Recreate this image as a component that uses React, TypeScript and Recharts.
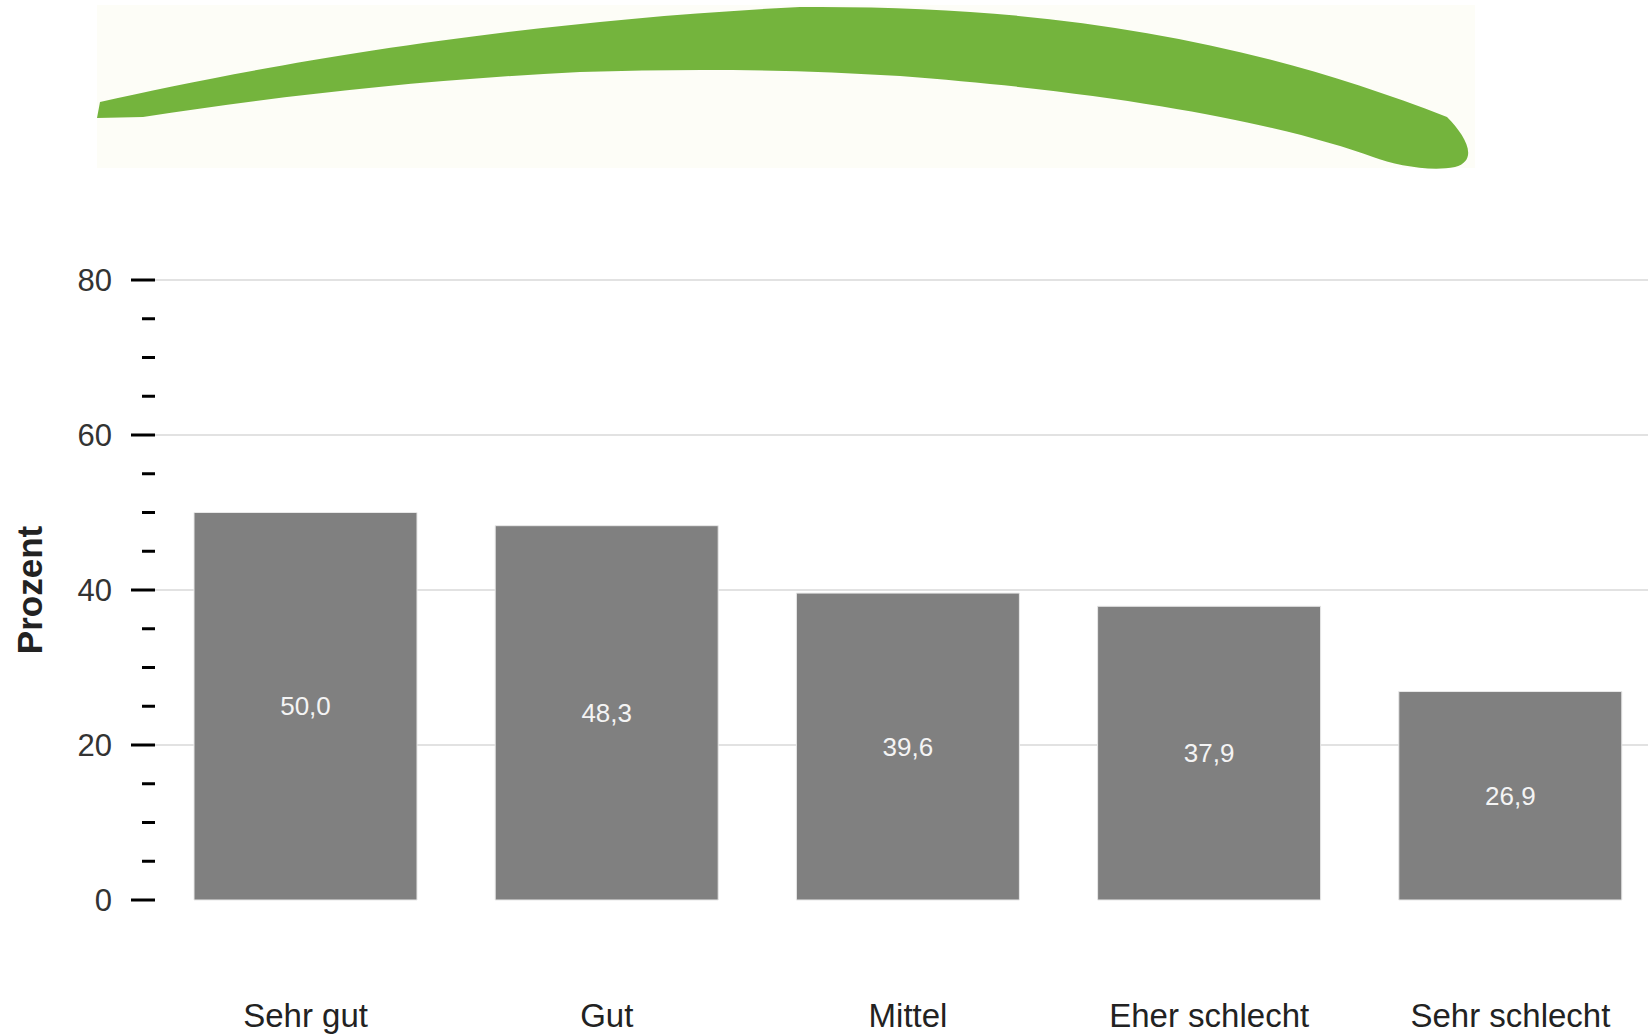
import { Bar, BarChart, CartesianGrid, LabelList, XAxis, YAxis } from "recharts";

const categories = ["Sehr gut", "Gut", "Mittel", "Eher schlecht", "Sehr schlecht"];
const values = [50.0, 48.3, 39.6, 37.9, 26.9];
const yTicks = [0, 5, 10, 15, 20, 25, 30, 35, 40, 45, 50, 55, 60, 65, 70, 75, 80];
const majorTicks = [0, 20, 40, 60, 80];
const gridValues = [20, 40, 60, 80];

const data = categories.map((name, i) => ({ name, value: values[i] }));

const font = "'Liberation Sans', Arial, sans-serif";

function YTick(props: any) {
  const { x, y, payload } = props;
  const major = majorTicks.includes(payload.value);
  return (
    <g>
      <line x1={x - (major ? 24 : 13)} x2={x} y1={y} y2={y} stroke="#000" strokeWidth={3} />
      {major && (
        <text x={x - 43} y={y} dy="0.36em" textAnchor="end" fontSize={31} fill="#333" fontFamily={font}>
          {payload.value}
        </text>
      )}
    </g>
  );
}

function AxisTitle(props: any) {
  const { viewBox } = props;
  const cx = 29;
  const cy = viewBox.y + viewBox.height / 2;
  return (
    <text
      x={cx}
      y={cy}
      transform={`rotate(-90, ${cx}, ${cy})`}
      textAnchor="middle"
      dominantBaseline="central"
      fontSize={35}
      fontWeight="bold"
      fill="#222"
      fontFamily={font}
    >
      Prozent
    </text>
  );
}

// green swoosh from the page header
function Swoosh() {
  return (
    <svg width={1648} height={180} style={{ position: "absolute", left: 0, top: 0 }}>
      <rect x={97} y={5} width={1378} height={163} fill="#fdfdf7" />
      <path
        d="M97,118 L100,102 C250,68 500,22 800,7 C1050,5 1250,40 1447,117 C1465,135 1480,160 1455,167 C1430,172 1395,165 1373,157 C1300,130 1150,95 900,76 C800,70 700,68 580,72 C420,80 280,96 143,117 Z"
        fill="#74b43d"
      />
    </svg>
  );
}

export default function App() {
  return (
    <div
      style={{
        position: "absolute",
        left: 0,
        top: 0,
        width: 1648,
        height: 1035,
        overflow: "hidden",
        background: "#fff",
        fontFamily: font
      }}
    >
      <Swoosh />
      <div style={{ position: "absolute", left: 0, top: 0 }}>
        <BarChart width={1662} height={1035} data={data} margin={{ top: 280, right: 1, bottom: 0, left: 0 }}>
          <CartesianGrid vertical={false} horizontalValues={gridValues} stroke="#e2e2e2" strokeWidth={2} />
          <XAxis
            dataKey="name"
            height={135}
            axisLine={false}
            tickLine={false}
            tickSize={0}
            tickMargin={104}
            interval={0}
            tick={{ fontSize: 33, fill: "#222", fontFamily: font }}
          />
          <YAxis
            width={155}
            domain={[0, 80]}
            ticks={yTicks}
            interval={0}
            axisLine={false}
            tickLine={false}
            tickSize={0}
            tickMargin={0}
            tick={<YTick />}
            label={<AxisTitle />}
          />
          <Bar dataKey="value" fill="#808080" stroke="#e8e8e8" strokeWidth={1} barSize={223} isAnimationActive={false}>
            <LabelList
              dataKey="value"
              position="center"
              formatter={(v: any) => Number(v).toFixed(1).replace(".", ",")}
              fill="#f4f4f4"
              fontSize={26}
              fontFamily={font}
            />
          </Bar>
        </BarChart>
      </div>
    </div>
  );
}
